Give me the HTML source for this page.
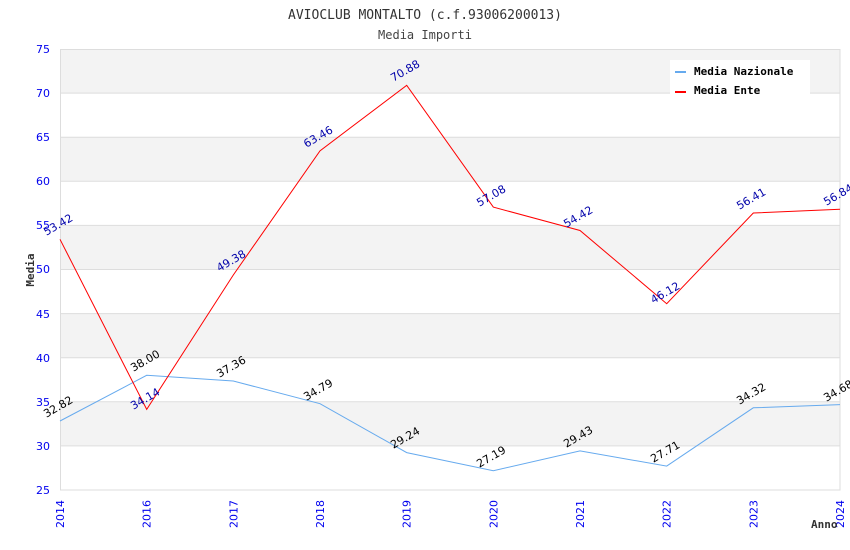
<!DOCTYPE html>
<html><head><meta charset="utf-8"><style>body{margin:0;background:#fff}svg{display:block}</style></head><body>
<svg width="850" height="550" xmlns="http://www.w3.org/2000/svg" font-family="'DejaVu Sans Mono','Liberation Mono',monospace">
<rect width="850" height="550" fill="#fff"/>
<text x="425" y="19" font-size="13" text-anchor="middle" fill="#333">AVIOCLUB MONTALTO (c.f.93006200013)</text>
<text x="425" y="39" font-size="12" text-anchor="middle" fill="#444">Media Importi</text>
<g fill="#f3f3f3">
<rect x="60" y="49" width="780" height="44.1"/>
<rect x="60" y="137.2" width="780" height="44.1"/>
<rect x="60" y="225.4" width="780" height="44.1"/>
<rect x="60" y="313.6" width="780" height="44.1"/>
<rect x="60" y="401.8" width="780" height="44.1"/>
</g>
<g stroke="#ddd" stroke-width="1">
<line x1="60" x2="840" y1="93.1" y2="93.1"/><line x1="60" x2="840" y1="137.2" y2="137.2"/>
<line x1="60" x2="840" y1="181.3" y2="181.3"/><line x1="60" x2="840" y1="225.4" y2="225.4"/>
<line x1="60" x2="840" y1="269.5" y2="269.5"/><line x1="60" x2="840" y1="313.6" y2="313.6"/>
<line x1="60" x2="840" y1="357.7" y2="357.7"/><line x1="60" x2="840" y1="401.8" y2="401.8"/>
<line x1="60" x2="840" y1="445.9" y2="445.9"/>
</g>
<rect x="60.5" y="49.5" width="779.5" height="440.5" fill="none" stroke="#ddd"/>
<g font-size="11" fill="#0000ee" text-anchor="end" font-family="'DejaVu Sans',sans-serif">
<text x="50" y="53">75</text><text x="50" y="97">70</text><text x="50" y="141">65</text><text x="50" y="185">60</text><text x="50" y="229">55</text><text x="50" y="273">50</text><text x="50" y="318">45</text><text x="50" y="362">40</text><text x="50" y="406">35</text><text x="50" y="450">30</text><text x="50" y="494">25</text>
</g>
<g font-size="11" fill="#0000ee" text-anchor="end" font-family="'DejaVu Sans',sans-serif">
<text transform="translate(64,500) rotate(-90)">2014</text>
<text transform="translate(150.7,500) rotate(-90)">2016</text>
<text transform="translate(237.3,500) rotate(-90)">2017</text>
<text transform="translate(324,500) rotate(-90)">2018</text>
<text transform="translate(410.7,500) rotate(-90)">2019</text>
<text transform="translate(497.3,500) rotate(-90)">2020</text>
<text transform="translate(584,500) rotate(-90)">2021</text>
<text transform="translate(670.7,500) rotate(-90)">2022</text>
<text transform="translate(757.3,500) rotate(-90)">2023</text>
<text transform="translate(844,500) rotate(-90)">2024</text>
</g>
<text x="811" y="528" font-size="11" fill="#333" font-weight="bold">Anno</text>
<text transform="translate(34,270) rotate(-90)" font-size="11" fill="#333" font-weight="bold" text-anchor="middle">Media</text>
<polyline fill="none" stroke="#66aaee" stroke-width="1" points="60,421 146.7,375.3 233.3,381 320,403.7 406.7,452.6 493.3,470.7 580,450.9 666.7,466.1 753.3,407.8 840,404.6"/>
<polyline fill="none" stroke="#ff0000" stroke-width="1" points="60,239.3 146.7,409.4 233.3,275 320,150.8 406.7,85.3 493.3,207.1 580,230.5 666.7,303.7 753.3,213 840,209.2"/>
<g font-size="11" fill="#000" text-anchor="middle" font-family="'DejaVu Sans',sans-serif">
<text transform="translate(60,410) rotate(-30)">32.82</text>
<text transform="translate(147,364) rotate(-30)">38.00</text>
<text transform="translate(233,370) rotate(-30)">37.36</text>
<text transform="translate(320,393) rotate(-30)">34.79</text>
<text transform="translate(407,441) rotate(-30)">29.24</text>
<text transform="translate(493,460) rotate(-30)">27.19</text>
<text transform="translate(580,440) rotate(-30)">29.43</text>
<text transform="translate(667,455) rotate(-30)">27.71</text>
<text transform="translate(753,397) rotate(-30)">34.32</text>
<text transform="translate(840,394) rotate(-30)">34.68</text>
</g>
<g font-size="11" fill="#0000aa" text-anchor="middle" font-family="'DejaVu Sans',sans-serif">
<text transform="translate(60,228) rotate(-30)">53.42</text>
<text transform="translate(147,402) rotate(-30)">34.14</text>
<text transform="translate(233,264) rotate(-30)">49.38</text>
<text transform="translate(320,140) rotate(-30)">63.46</text>
<text transform="translate(407,74) rotate(-30)">70.88</text>
<text transform="translate(493,199) rotate(-30)">57.08</text>
<text transform="translate(580,220) rotate(-30)">54.42</text>
<text transform="translate(667,296) rotate(-30)">46.12</text>
<text transform="translate(753,202) rotate(-30)">56.41</text>
<text transform="translate(840,198) rotate(-30)">56.84</text>
</g>
<rect x="670" y="60" width="140" height="34" fill="#fff"/>
<rect x="675" y="71" width="11" height="2" fill="#66aaee"/>
<rect x="675" y="91" width="11" height="2" fill="#ff0000"/>
<g font-size="11" font-weight="bold" fill="#000">
<text x="694" y="75">Media Nazionale</text>
<text x="694" y="94">Media Ente</text>
</g>
</svg>
</body></html>
